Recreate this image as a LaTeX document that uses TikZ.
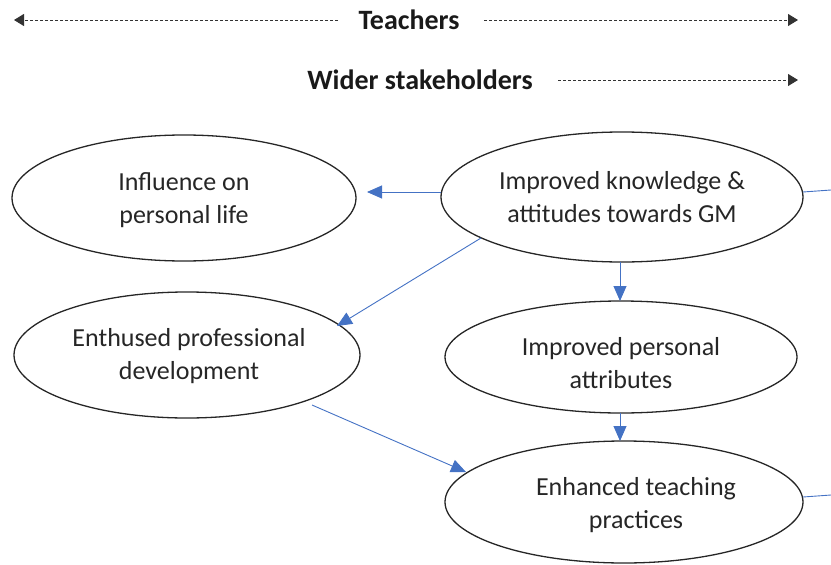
\documentclass[tikz,border=0pt]{standalone}
\usepackage{fontspec}
\setmainfont{Carlito}
\usetikzlibrary{arrows.meta}
\definecolor{linkblue}{HTML}{4472C4}
\tikzset{
  link/.style={draw=linkblue, line width=0.9pt, -{Triangle[length=15pt,width=13pt]}},
  plainlink/.style={draw=linkblue, line width=0.9pt},
  dashline/.style={draw=black!80, line width=1pt, dash pattern=on 3pt off 2pt},
  head/.style={font=\bfseries\fontsize{28}{32}\selectfont, text=black!90},
  body/.style={font=\fontsize{26}{33}\selectfont, text=black!85, align=center},
  ovalline/.style={draw=black!85, line width=1.3pt}
}
\begin{document}
\begin{tikzpicture}[x=1pt,y=-1pt]
\useasboundingbox (0,0) rectangle (831,565);
% headers
\node[head] (teach) at (409,20) {Teachers};
\node[head] (wider) at (420,80) {Wider stakeholders};
\coordinate (tl1) at (338,20);
\coordinate (tl2) at (14,20);
\coordinate (tr1) at (484,20);
\coordinate (tr2) at (798,20);
\coordinate (wr1) at (558,80);
\coordinate (wr2) at (798,80);
\draw[dashline, -{Triangle[length=10pt,width=12pt]}] (tl1) -- (tl2);
\draw[dashline, -{Triangle[length=10pt,width=12pt]}] (tr1) -- (tr2);
\draw[dashline, -{Triangle[length=10pt,width=12pt]}] (wr1) -- (wr2);
% ellipses
\draw[ovalline] (184,198) ellipse [x radius=172, y radius=63];
\node[body] (infl) at (184,200) {Influence on\\personal life};
\draw[ovalline] (622,197) ellipse [x radius=181, y radius=65];
\node[body] (know) at (622,197) {Improved knowledge \&\\attitudes towards GM};
\draw[ovalline] (187,355) ellipse [x radius=173, y radius=63];
\node[body] (enth) at (189,356) {Enthused professional\\development};
\draw[ovalline] (621,357) ellipse [x radius=176, y radius=56];
\node[body] (attr) at (621,363) {Improved personal\\attributes};
\draw[ovalline] (624,502) ellipse [x radius=179, y radius=61];
\node[body] (teachp) at (636,505) {Enhanced teaching\\practices};
% connectors
\coordinate (k1) at (441,192);
\coordinate (i1) at (367,192);
\draw[link] (k1) -- (i1);
\coordinate (k2) at (481,238);
\coordinate (e1) at (337,326);
\draw[link] (k2) -- (e1);
\coordinate (k3) at (620,262);
\coordinate (a1) at (620,301);
\draw[link] (k3) -- (a1);
\coordinate (a2) at (620,413);
\coordinate (t1) at (620,441);
\draw[link] (a2) -- (t1);
\coordinate (e2) at (312,405);
\coordinate (t2) at (466,472);
\draw[link] (e2) -- (t2);
\coordinate (k4) at (803,192);
\coordinate (kx) at (831,190);
\draw[plainlink] (k4) -- (kx);
\coordinate (t3) at (803,497);
\coordinate (tx) at (831,495);
\draw[plainlink] (t3) -- (tx);
\end{tikzpicture}
\end{document}
